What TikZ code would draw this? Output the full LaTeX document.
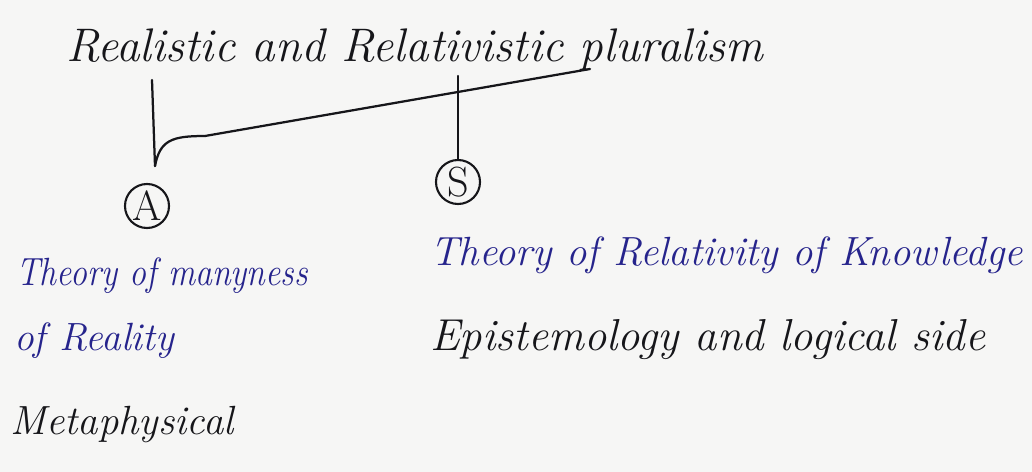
\documentclass[tikz,border=0pt]{standalone}
\usepackage{tikz}
\usetikzlibrary{positioning}
\definecolor{paper}{RGB}{246,246,245}
\definecolor{inkblack}{RGB}{22,22,26}
\definecolor{inkblue}{RGB}{38,36,140}
\tikzset{
  pen/.style={draw=inkblack, line width=1.6pt, line cap=round, line join=round},
  hand/.style={font=\fontsize{#1}{#1}\selectfont\itshape, inner sep=0pt, anchor=base west},
  hand/.default=29,
  blueline/.style={hand=#1, text=inkblue},
  blueline/.default=29,
  blackline/.style={hand=#1, text=inkblack},
  blackline/.default=29,
  tag/.style={circle, draw=inkblack, line width=1.5pt, minimum size=1.1cm, inner sep=0pt,
    font=\fontsize{30}{30}\selectfont, text=inkblack}
}
\begin{document}
\begin{tikzpicture}[x=0.025cm, y=-0.025cm]
		% Paper and bounding box
		\fill[paper] (0,0) rectangle (1032,472);
		\useasboundingbox (0,0) rectangle (1032,472);
		
		% Heading
		\node[blackline=33.5] (title) at (66,62) {Realistic and Relativistic pluralism};
		
		% The two circled letters
		\node[tag] (nodeA) at (147,206) {A};
		\node[tag] (nodeS) at (458,182) {S};
		
		% Connector points under the heading
		\coordinate (realTop) at (152,80);
		\coordinate (aJoin) at (155,166);
		\coordinate (relTop) at (458,76);
		\coordinate (pluEnd) at (590,69);
		
		% Connectors
		\draw[pen] (realTop) -- (aJoin);
		\draw[pen] (aJoin) .. controls (160,140) and (172,136) .. (205,136) -- (pluEnd);
		\draw[pen] (relTop) -- (nodeS.north);
		
		% Left side: metaphysical
		\node[blueline=28] (manyA) at (16,285) {\scalebox{0.86}[1]{Theory of manyness}};
		\node[blueline=28] (manyB) at (14,350) {of Reality};
		\node[blackline] (meta) at (10,434) {Metaphysical};
		
		% Right side: epistemological
		\node[blueline] (relKnow) at (430,265) {Theory of Relativity of Knowledge};
		\node[blackline=31.8] (episte) at (430,350) {Epistemology and logical side};
\end{tikzpicture}
\end{document}
